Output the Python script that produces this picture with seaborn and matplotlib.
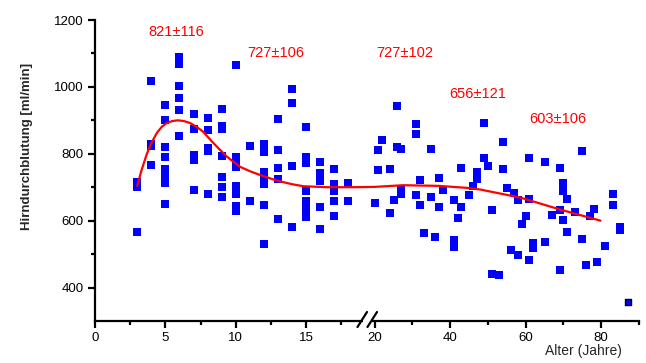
import numpy as np
import pandas as pd
import matplotlib
matplotlib.use("Agg")
import matplotlib.pyplot as plt
import seaborn as sns

# ---------------- data ----------------
ages_young = [3, 3, 3,
              4, 4, 4, 4,
              5, 5, 5, 5, 5, 5, 5, 5,
              6, 6, 6, 6, 6, 6, 6,
              7, 7, 7, 7, 7,
              8, 8, 8, 8, 8,
              9, 9, 9, 9, 9, 9, 9,
              10, 10, 10, 10, 10, 10, 10, 10,
              11, 11,
              12, 12, 12, 12, 12, 12, 12,
              13, 13, 13, 13, 13,
              14, 14, 14, 14,
              15, 15, 15, 15, 15, 15, 15, 15,
              16, 16, 16, 16, 16,
              17, 17, 17, 17, 17,
              18, 18]
flow_young = [715, 700, 565,
              1017, 830, 822, 765,
              945, 900, 820, 790, 755, 738, 712, 650,
              1090, 1078, 1068, 1002, 967, 930, 854,
              920, 875, 795, 780, 693,
              908, 872, 818, 808, 680,
              935, 883, 873, 792, 732, 700, 672,
              1065, 790, 780, 760, 705, 680, 645, 630,
              822, 660,
              830, 805, 745, 735, 710, 648, 530,
              904, 810, 757, 725, 604,
              993, 952, 762, 581,
              880, 790, 773, 690, 658, 648, 635, 612,
              775, 742, 720, 640, 576,
              753, 710, 690, 660, 613,
              712, 660]

ages_old = [26, 31, 31, 22, 21, 26, 27, 35, 21, 24, 43, 32, 37, 27, 27, 38, 20, 25,
            31, 32, 35, 37, 41, 43, 42, 24, 33, 36, 41, 41,
            49, 54, 47, 47, 49, 50, 54, 61, 65, 46, 45, 55, 57, 58, 61, 51, 60, 59,
            67, 62, 62, 65, 56, 58, 61, 51, 53,
            75, 69, 70, 70, 71, 83, 83, 69, 73, 77, 78, 70, 71, 75, 81, 85, 85,
            79, 76, 69]
flow_old = [942, 889, 859, 842, 812, 820, 814, 815, 752, 754, 756, 722, 727, 693, 681, 693, 653, 663,
            676, 648, 670, 641, 663, 641, 608, 623, 563, 551, 541, 521,
            893, 835, 746, 724, 788, 764, 754, 786, 775, 705, 677, 698, 682, 663, 666, 631, 613, 590,
            618, 533, 518, 536, 511, 496, 483, 441, 439,
            807, 757, 714, 690, 665, 680, 647, 633, 627, 615, 634, 602, 566, 544, 525, 581, 571,
            477, 466, 451]

outlier_age = [87]
outlier_flow = [357]

curve_age = [3, 3.3, 3.67, 4.0, 4.39, 4.75, 5.1, 5.5, 5.9, 6.3, 6.75, 7.2, 7.68, 8.0, 8.39,
             8.9, 9.38, 10.3, 11.0, 11.7, 12.9, 14.0, 14.8, 16.5, 18.3, 20, 27.5, 37,
             44.5, 48, 58.6, 69.2, 79.8]
curve_flow = [704, 750, 798, 832, 862, 881, 892, 898, 900, 898, 892, 881, 866, 851, 833,
              811, 791, 761, 748, 737, 720, 709, 703, 700, 700, 701, 706, 704,
              698, 693, 669, 633, 600]

group_labels = ["821±116", "727±106", "727±102", "656±121", "603±106"]
label_age = [5.76, 12.86, 28.1, 47.4, 68.6]
label_flow = [1164, 1101, 1101, 979, 904]

xticks_major = [0, 5, 10, 15, 20, 40, 60, 80]
xticks_minor = [2.5, 7.5, 12.5, 17.5, 30, 50, 70, 90]
yticks_major = [400, 600, 800, 1000, 1200]
yticks_minor = [500, 700, 900, 1100]

# ---------------- style ----------------
sns.set_style("ticks")
plt.rcParams['font.family'] = ['Liberation Sans', 'DejaVu Sans']

fig = plt.figure(figsize=(6.46, 3.63), dpi=100)
ax = fig.add_axes([95/646, 1 - 321/363, 544/646, 301/363])

# broken x axis: 0-19.5 wide, 20-90 compressed
_xb = np.array([-100.0, 0.0, 19.5, 20.0, 200.0])
_pb = np.array([-1407.0, 0.0, 274.37, 279.5, 279.5 + 180 * 3.775])
def fwd(x):
    return np.interp(x, _xb, _pb)
def inv(p):
    return np.interp(p, _pb, _xb)
ax.set_xscale('function', functions=(fwd, inv))

scatter_df = pd.DataFrame({"age": ages_young + ages_old,
                           "flow": flow_young + flow_old})
curve_df = pd.DataFrame({"age": curve_age, "flow": curve_flow})
out_df = pd.DataFrame({"age": outlier_age, "flow": outlier_flow})

sns.scatterplot(data=scatter_df, x="age", y="flow", marker="s", s=28,
                color="#0000ff", linewidth=0, ax=ax, zorder=3)
ax.scatter(out_df["age"], out_df["flow"], marker="s", s=24,
           facecolor="#0000ff", edgecolors="black", linewidths=1.0, zorder=3)
sns.lineplot(data=curve_df, x="age", y="flow", color="#ff0000", linewidth=1.6,
             estimator=None, sort=False, ax=ax, zorder=4)

for lab, xa, ya in zip(group_labels, label_age, label_flow):
    ax.text(xa, ya, lab, color="#ff0000", fontsize=10.5, ha="center", va="center")

ax.set_xlim(0, 90)
ax.set_ylim(300, 1200)
ax.set_xticks(xticks_major)
ax.set_xticklabels([str(t) for t in xticks_major])
ax.set_xticks(xticks_minor, minor=True)
ax.set_yticks(yticks_major)
ax.set_yticklabels([str(t) for t in yticks_major])
ax.set_yticks(yticks_minor, minor=True)

for s in ["top", "right"]:
    ax.spines[s].set_visible(False)
for s in ["left", "bottom"]:
    ax.spines[s].set_linewidth(1.6)
    ax.spines[s].set_color("black")

ax.tick_params(axis="both", which="major", direction="out", length=5, width=1.6,
               labelsize=9.5, color="black", labelcolor="black", pad=3)
ax.tick_params(axis="both", which="minor", direction="out", length=3, width=1.6,
               color="black")

ax.set_ylabel("Hirndurchblutung [ml/min]", fontsize=9.5, fontweight="bold")
ax.yaxis.set_label_coords((33 - 95) / 544, (321 - 146) / 301)
ax.set_xlabel("Alter (Jahre)", fontsize=10)
ax.xaxis.set_label_coords((583 - 95) / 544, -0.077)

# axis break marks
W = 544.0
H = 301.0
ax.add_patch(plt.Rectangle(((363 - 95) / W, -6 / H), 9 / W, 12 / H, transform=ax.transAxes,
                           facecolor="white", edgecolor="none", clip_on=False, zorder=5))
for x0 in (357.5, 367.5):
    ax.plot([(x0 - 95) / W, (x0 + 9.5 - 95) / W], [-6 / H, 9 / H], color="black",
            linewidth=1.6, transform=ax.transAxes, clip_on=False, zorder=6)

ax.grid(False)
fig.savefig("out.png", dpi=100)
